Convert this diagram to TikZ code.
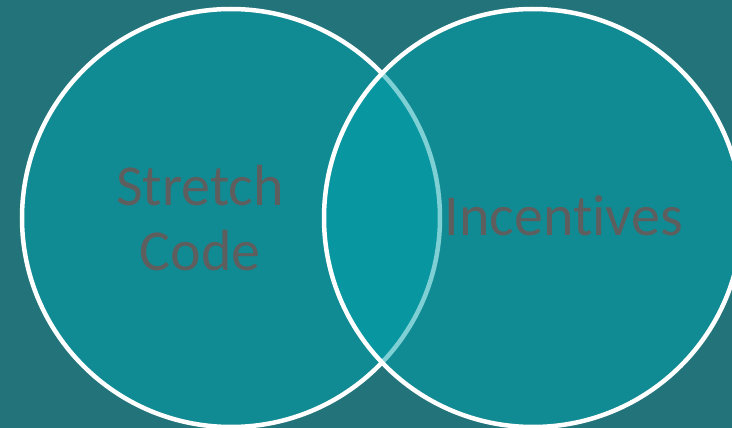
\documentclass[tikz,border=0pt]{standalone}
\usepackage{fontspec}
\setmainfont[Ligatures={NoCommon,NoRare,NoDiscretionary},RawFeature={-liga;-dlig;-clig}]{Carlito}
\definecolor{bgteal}{RGB}{35,115,122}
\definecolor{circfill}{RGB}{1,163,173}
\definecolor{txtgray}{RGB}{94,94,94}
\tikzset{
  venn/.style={fill=circfill, fill opacity=0.5, draw=white, draw opacity=1, line width=4.5pt},
  lbl/.style={text=txtgray, font=\fontsize{58}{65}\selectfont, align=center, inner sep=0pt}
}
\begin{document}
\begin{tikzpicture}[x=1pt,y=-1pt]
\useasboundingbox (0,0) rectangle (732,428);
\fill[bgteal] (0,0) rectangle (732,428);
\begin{scope}
\clip (0,0) rectangle (732,428);
\path[venn] (231,218) circle[radius=209];
\path[venn] (533,218) circle[radius=209];
\end{scope}
\node[lbl] (sc) at (200,218) {Stretch\\Code};
\node[lbl, anchor=base] (inc) at (564,235) {Incentives};
\end{tikzpicture}
\end{document}
